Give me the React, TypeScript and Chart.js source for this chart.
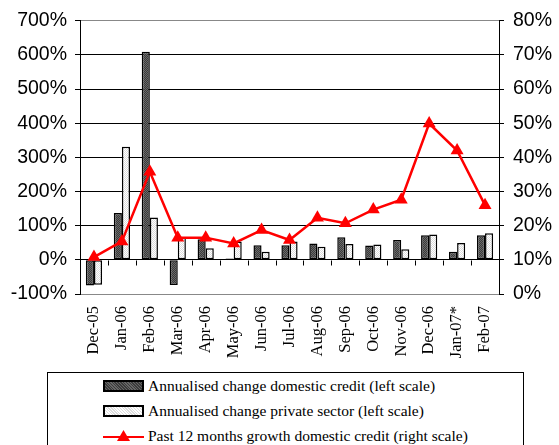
import React, { useEffect, useRef } from "react";
import { Chart, registerables } from "chart.js";

Chart.register(...registerables);

const categories = ["Dec-05", "Jan-06", "Feb-06", "Mar-06", "Apr-06", "May-06", "Jun-06", "Jul-06", "Aug-06", "Sep-06", "Oct-06", "Nov-06", "Dec-06", "Jan-07*", "Feb-07"];
const domesticCredit = [-75, 137, 609, -74, 60, 4, 43, 43, 48, 66, 42, 58, 72, 24, 72];
const privateSector = [-73, 331, 124, 67, 34, 54, 24, 54, 38, 46, 45, 31, 74, 49, 78];
const growth12m = [10.8, 15.4, 35.8, 16.5, 16.5, 14.8, 18.7, 15.8, 22.3, 20.7, 24.7, 27.6, 49.9, 42, 26];

const leftTicks = { min: -100, max: 700, step: 100 };
const rightTicks = { min: 0, max: 80, step: 10 };

const legendLabels = [
  "Annualised change domestic credit (left scale)",
  "Annualised change private sector (left scale)",
  "Past 12 months growth domestic credit (right scale)",
];

function makePattern(a: string, b: string) {
  const c = document.createElement("canvas");
  c.width = 2;
  c.height = 2;
  const g = c.getContext("2d")!;
  g.fillStyle = a;
  g.fillRect(0, 0, 2, 2);
  g.fillStyle = b;
  g.fillRect(0, 0, 1, 1);
  g.fillRect(1, 1, 1, 1);
  const ctx = document.createElement("canvas").getContext("2d")!;
  return ctx.createPattern(c, "repeat") as CanvasPattern;
}

const zeroTicks = {
  id: "zeroTicks",
  beforeDatasetsDraw(chart: any) {
    const x = chart.scales.x;
    const y = chart.scales.y;
    const ctx = chart.ctx;
    const y0 = Math.round(y.getPixelForValue(0)) + 0.5;
    ctx.save();
    ctx.strokeStyle = "#000";
    ctx.lineWidth = 1;
    ctx.beginPath();
    for (let i = 1; i < categories.length; i++) {
      const px = Math.round(x.getPixelForValue(i - 0.5)) + 0.5;
      ctx.moveTo(px, y0);
      ctx.lineTo(px, y0 + 5);
    }
    ctx.stroke();
    ctx.restore();
  },
};

export default function App() {
  const ref = useRef<HTMLCanvasElement>(null);
  useEffect(() => {
    const darkPat = makePattern("#3a3a3a", "#6a6a6a");
    const lightPat = makePattern("#ffffff", "#dcdcdc");
    const chart = new Chart(ref.current!, {
      type: "bar",
      data: {
        labels: categories,
        datasets: [
          {
            type: "line",
            label: legendLabels[2],
            data: growth12m,
            yAxisID: "y1",
            borderColor: "#ff0000",
            backgroundColor: "#ff0000",
            borderWidth: 2.5,
            pointStyle: "triangle",
            pointRadius: 7.5,
            pointBorderWidth: 0,
            tension: 0,
            order: 0,
          } as any,
          {
            label: legendLabels[0],
            data: domesticCredit,
            yAxisID: "y",
            backgroundColor: darkPat,
            borderColor: "#000",
            borderWidth: 1.5,
            borderSkipped: false,
            categoryPercentage: 0.58,
            barPercentage: 1,
            order: 1,
          },
          {
            label: legendLabels[1],
            data: privateSector,
            yAxisID: "y",
            backgroundColor: lightPat,
            borderColor: "#000",
            borderWidth: 1.5,
            borderSkipped: false,
            categoryPercentage: 0.58,
            barPercentage: 1,
            order: 1,
          },
        ],
      },
      options: {
        responsive: false,
        animation: false,
        layout: { padding: { top: 16, bottom: 81, left: 0, right: 0 } },
        plugins: { legend: { display: false }, tooltip: { enabled: false } },
        scales: {
          x: {
            afterFit: (s: any) => { s.height = 70; },
            grid: { display: false, drawTicks: false },
            border: { display: true, color: "#888", width: 1 },
            ticks: {
              minRotation: 90,
              maxRotation: 90,
              autoSkip: false,
              padding: 12,
              color: "#000",
              font: { family: "'Liberation Serif', 'Times New Roman', serif", size: 16.5 },
            },
          },
          y: {
            position: "left",
            min: leftTicks.min,
            max: leftTicks.max,
            afterFit: (s: any) => { s.width = 80; },
            ticks: {
              stepSize: leftTicks.step,
              padding: 8,
              color: "#000",
              font: { family: "'Liberation Sans', Arial, sans-serif", size: 19.5 },
              callback: (v: any) => v + "%",
            },
            grid: {
              color: (c: any) => (c.tick && (c.tick.value === leftTicks.min || c.tick.value === leftTicks.max) ? "#888" : "#000"),
              tickColor: "#000",
              tickLength: 5,
              lineWidth: 1,
            },
            border: { display: true, color: "#000", width: 1 },
          },
          y1: {
            position: "right",
            min: rightTicks.min,
            max: rightTicks.max,
            afterFit: (s: any) => { s.width = 60; },
            ticks: {
              stepSize: rightTicks.step,
              padding: 9,
              color: "#000",
              font: { family: "'Liberation Sans', Arial, sans-serif", size: 19.5 },
              callback: (v: any) => v + "%",
            },
            grid: { drawOnChartArea: false, tickColor: "#000", tickLength: 5 },
            border: { display: true, color: "#000", width: 1 },
          },
        },
      },
      plugins: [zeroTicks],
    });
    return () => chart.destroy();
  }, []);

  const serif = "'Liberation Serif', 'Times New Roman', serif";
  const rowStyle: React.CSSProperties = {
    position: "absolute",
    left: 55,
    height: 25,
    display: "flex",
    alignItems: "center",
    whiteSpace: "nowrap",
    fontFamily: serif,
    fontSize: 15.5,
    color: "#000",
  };
  const boxStyle = (bg: string): React.CSSProperties => ({
    width: 37,
    height: 8,
    border: "2px solid #000",
    background: bg,
    marginRight: 4,
    flex: "none",
  });

  return (
    <div style={{ position: "fixed", left: 0, top: 0, width: 559, height: 445, background: "#fff", overflow: "hidden" }}>
      <canvas ref={ref} width={559} height={445} style={{ position: "absolute", left: 0, top: 0, width: 559, height: 445 }} />
      <div style={{ position: "absolute", left: 47, top: 372, width: 477, height: 100, border: "1px solid #000", background: "#fff", boxSizing: "border-box" }}>
        <div style={{ ...rowStyle, top: 0 }}>
          <div style={boxStyle("repeating-linear-gradient(45deg,#3a3a3a 0 1px,#666 1px 2px)")} />
          <span>{legendLabels[0]}</span>
        </div>
        <div style={{ ...rowStyle, top: 25 }}>
          <div style={boxStyle("repeating-linear-gradient(45deg,#fff 0 1px,#ddd 1px 2px)")} />
          <span>{legendLabels[1]}</span>
        </div>
        <div style={{ ...rowStyle, top: 50 }}>
          <svg width={41} height={14} style={{ marginRight: 4, flex: "none" }}>
            <line x1={0} y1={8} x2={41} y2={8} stroke="#ff0000" strokeWidth={2} />
            <polygon points="20.5,1 27,12 14,12" fill="#ff0000" />
          </svg>
          <span>{legendLabels[2]}</span>
        </div>
      </div>
    </div>
  );
}
